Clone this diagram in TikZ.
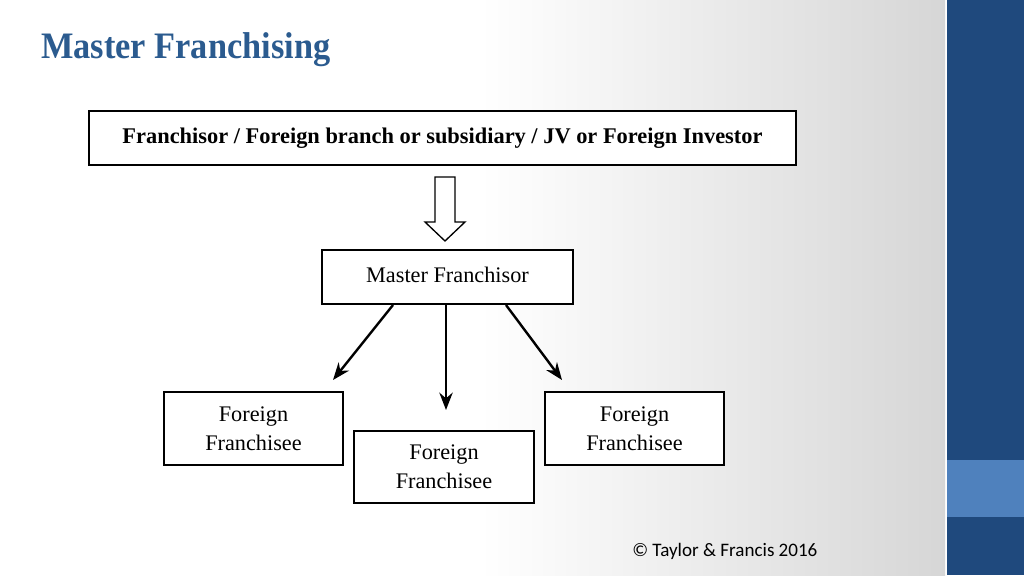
\documentclass[tikz,border=0pt]{standalone}
\usepackage{fontspec}
\setmainfont{Liberation Serif}
\newfontfamily\carl{Carlito}
\usetikzlibrary{arrows.meta}
\definecolor{dblue}{HTML}{1F497D}
\definecolor{lblue}{HTML}{4F81BD}
\definecolor{ttl}{HTML}{2B5B8F}
\begin{document}
\begin{tikzpicture}[x=0.75pt,y=-0.75pt,
 box/.style={draw=black,line width=1.2pt,fill=white,align=center,font=\fontsize{16.7}{22}\selectfont},
 arr/.style={line width=1.8pt,-{Stealth[length=13pt,width=10pt]}}]
\useasboundingbox (0,0) rectangle (1024,575);
\fill[white] (0,0) rectangle (1024,575);
\shade[left color=white,right color=black!16] (480,0) rectangle (945,575);
\fill[dblue] (947,0) rectangle (1024,575);
\fill[lblue] (947,460) rectangle (1024,517);
\node[anchor=west,font=\fontsize{28}{32}\selectfont\bfseries,text=ttl,inner sep=0] (t) at (41,50) {\addfontfeatures{FakeStretch=0.92}Master Franchising};
\node[box,minimum width=707*0.75pt,minimum height=54*0.75pt,font=\fontsize{16.8}{20}\selectfont\bfseries] (top) at (442.5,138) {Franchisor / Foreign branch or subsidiary / JV or Foreign Investor};
\draw[line width=1pt,fill=white] (435,177) -- (455,177) -- (455,222) -- (465,222) -- (445,241) -- (425,222) -- (435,222) -- cycle;
\node[box,minimum width=251*0.75pt,minimum height=54*0.75pt] (mf) at (447.5,277) {\raisebox{3pt}{Master Franchisor}};
\node[box,minimum width=179*0.75pt,minimum height=73*0.75pt] (l) at (253.5,428.5) {Foreign\\Franchisee};
\node[box,minimum width=180*0.75pt,minimum height=72*0.75pt] (m) at (444,467) {Foreign\\Franchisee};
\node[box,minimum width=179*0.75pt,minimum height=73*0.75pt] (r) at (634.5,428.5) {Foreign\\Franchisee};
\coordinate (a1) at (393,305); \coordinate (e1) at (333,380);
\coordinate (a2) at (446,305); \coordinate (e2) at (446,410);
\coordinate (a3) at (506,305); \coordinate (e3) at (562,380);
\draw[arr] (a1) -- (e1);
\draw[arr] (a2) -- (e2);
\draw[arr] (a3) -- (e3);
\node[anchor=west,font=\carl\fontsize{14.3}{16}\selectfont,inner sep=0] (c) at (632,551) {© Taylor \& Francis 2016};
\end{tikzpicture}
\end{document}
